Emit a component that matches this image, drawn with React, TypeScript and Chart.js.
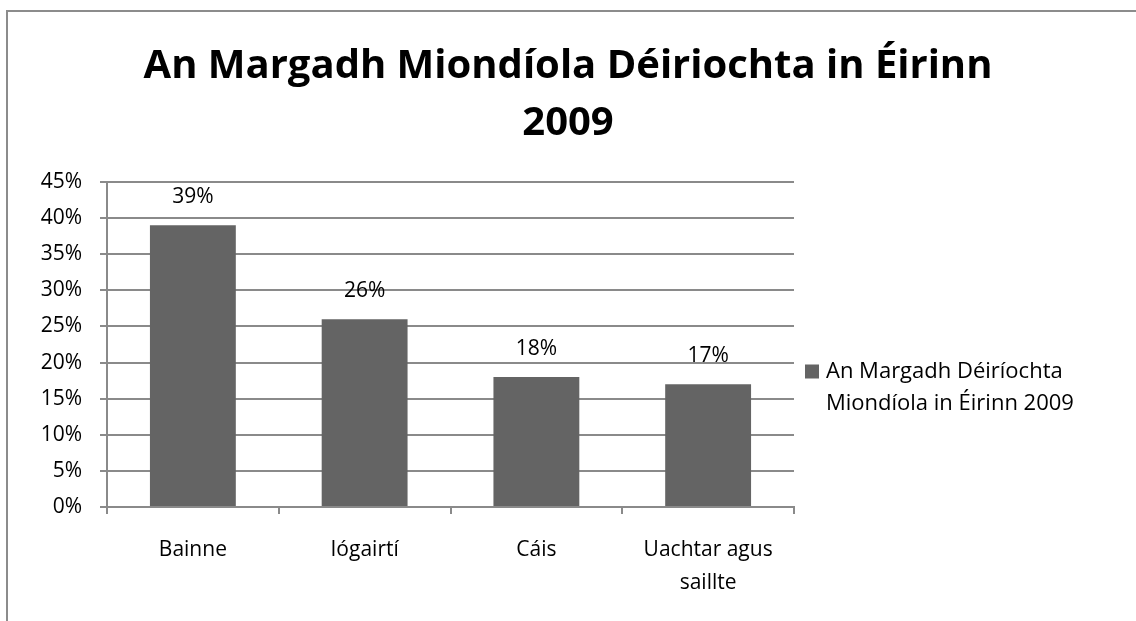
import React, { useEffect, useRef } from "react";
import { Chart, registerables } from "chart.js";

Chart.register(...registerables);

const categories: (string | string[])[] = ["Bainne", "Iógairtí", "Cáis", ["Uachtar agus", "saillte"]];
const values: number[] = [39, 26, 18, 17];
const seriesLabel: string[] = ["An Margadh Déiríochta", "Miondíola in Éirinn 2009"];
const titleLines: string[] = ["An Margadh Miondíola Déiriochta in Éirinn", "2009"];

const FONT = "'Open Sans', Lato, 'DejaVu Sans', sans-serif";
const BAR = "#646464";
const GRID = "#8a8a8a";

const framePlugin = {
  id: "frame",
  beforeDraw(chart: any) {
    const ctx = chart.ctx;
    ctx.save();
    ctx.fillStyle = "#ffffff";
    ctx.fillRect(0, 0, chart.width, chart.height);
    ctx.strokeStyle = "#8c8c8c";
    ctx.lineWidth = 2;
    ctx.strokeRect(7, 11, chart.width + 50, chart.height + 50);
    ctx.restore();
  },
};

const titlePlugin = {
  id: "centeredTitle",
  afterDraw(chart: any) {
    const ctx = chart.ctx;
    ctx.save();
    ctx.fillStyle = "#000000";
    ctx.font = `bold 40px ${FONT}`;
    ctx.textAlign = "center";
    ctx.textBaseline = "alphabetic";
    const cx = chart.width / 2;
    const baselines = [78, 135];
    titleLines.forEach((line, i) => ctx.fillText(line, cx, baselines[i]));
    ctx.restore();
  },
};

const dataLabelPlugin = {
  id: "dataLabels",
  afterDatasetsDraw(chart: any) {
    const ctx = chart.ctx;
    const meta = chart.getDatasetMeta(0);
    ctx.save();
    ctx.fillStyle = "#000000";
    ctx.font = `21px ${FONT}`;
    ctx.textAlign = "center";
    ctx.textBaseline = "alphabetic";
    meta.data.forEach((bar: any, i: number) => {
      const v = chart.data.datasets[0].data[i];
      ctx.fillText(`${v}%`, bar.x, bar.y - 22);
    });
    ctx.restore();
  },
};

const legendPlugin = {
  id: "customLegend",
  afterDraw(chart: any) {
    const ctx = chart.ctx;
    const area = chart.chartArea;
    const x0 = area.right + 11;
    const y0 = 371.5;
    const lh = 32;
    ctx.save();
    ctx.fillStyle = BAR;
    ctx.fillRect(x0, y0 - 7, 14, 14);
    ctx.fillStyle = "#000000";
    ctx.font = `22px ${FONT}`;
    ctx.textAlign = "left";
    ctx.textBaseline = "middle";
    seriesLabel.forEach((line, i) => {
      ctx.fillText(line, x0 + 21, y0 + i * lh);
    });
    ctx.restore();
  },
};

export default function App() {
  const ref = useRef<HTMLCanvasElement | null>(null);

  useEffect(() => {
    if (!ref.current) return;
    const chart = new Chart(ref.current, {
      type: "bar",
      data: {
        labels: categories,
        datasets: [
          {
            label: seriesLabel.join(" "),
            data: values,
            backgroundColor: BAR,
            borderWidth: 0,
            categoryPercentage: 1,
            barPercentage: 0.5,
          },
        ],
      },
      options: {
        responsive: false,
        animation: false,
        devicePixelRatio: 1,
        layout: { padding: { left: 7, right: 342, top: 182, bottom: 0 } },
        plugins: {
          legend: { display: false },
          tooltip: { enabled: false },
          title: { display: false },
        },
        scales: {
          x: {
            grid: {
              drawOnChartArea: false,
              offset: true,
              tickLength: 7,
              color: GRID,
              lineWidth: 2,
            },
            border: { color: GRID, width: 2 },
            ticks: {
              color: "#000000",
              font: { family: FONT, size: 21, lineHeight: 33 / 21 },
              padding: 20,
              maxRotation: 0,
              autoSkip: false,
            },
            afterFit(scale: any) {
              scale.height = 114;
            },
          },
          y: {
            min: 0,
            max: 45,
            grid: { color: GRID, lineWidth: 2, tickLength: 7 },
            border: { color: GRID, width: 2 },
            ticks: {
              stepSize: 5,
              color: "#000000",
              font: { family: FONT, size: 21 },
              padding: 18,
              callback: (v: any) => `${v}%`,
            },
            afterFit(scale: any) {
              scale.width = 100;
            },
          },
        },
      },
      plugins: [framePlugin, titlePlugin, dataLabelPlugin, legendPlugin],
    });
    return () => chart.destroy();
  }, []);

  return (
    <div style={{ position: "absolute", left: 0, top: 0, width: 1136, height: 621, overflow: "hidden" }}>
      <canvas ref={ref} width={1136} height={621} style={{ display: "block" }} />
    </div>
  );
}
